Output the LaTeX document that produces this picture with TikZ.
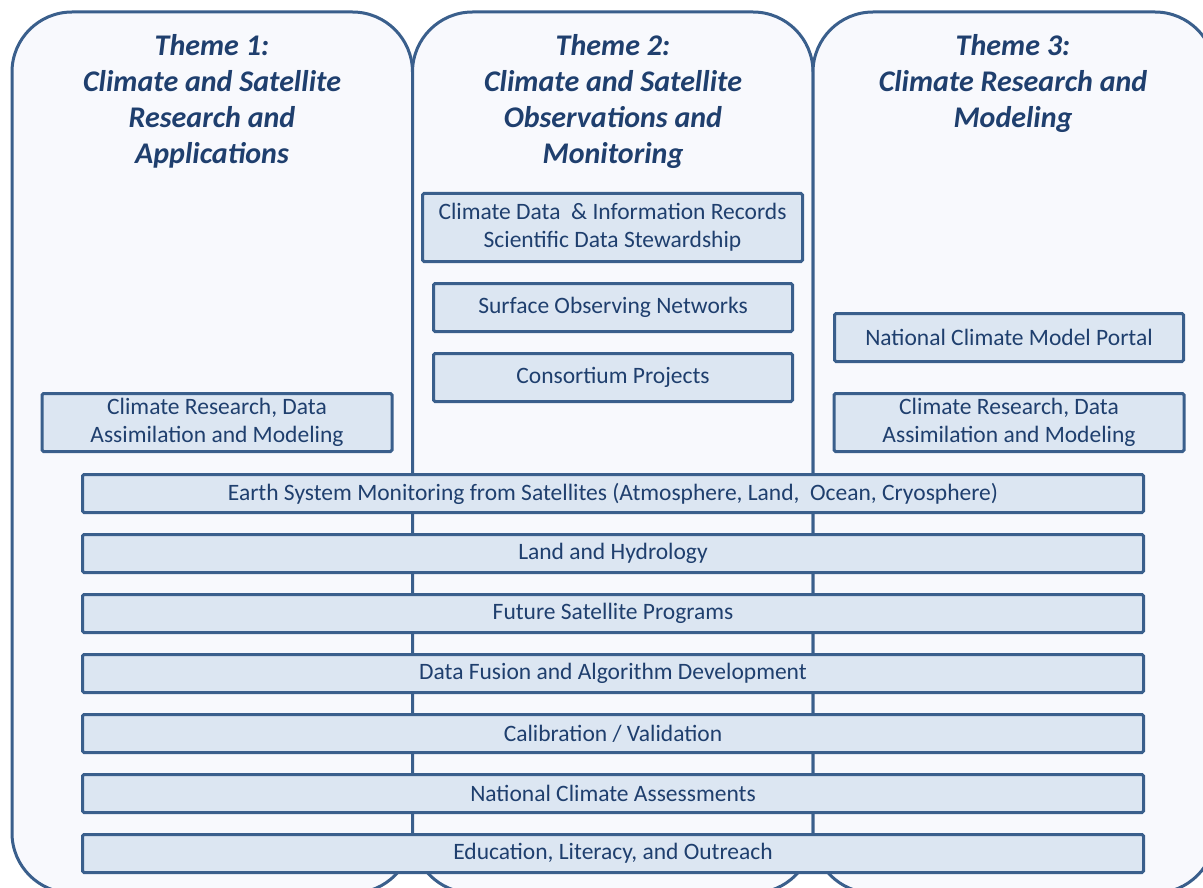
\documentclass[tikz,border=0pt]{standalone}
\usepackage{fontspec}
\setmainfont{Carlito}
\definecolor{lineblue}{HTML}{3A5F8C}
\definecolor{boxfill}{HTML}{DCE6F2}
\definecolor{colfill}{HTML}{F8F9FD}
\definecolor{textblue}{HTML}{1F3F6E}
\tikzset{
  column/.style={draw=lineblue, fill=colfill, line width=3pt, rounded corners=60pt},
  themetitle/.style={anchor=north, inner sep=0pt, align=center, text=textblue,
    font=\fontsize{30}{36}\selectfont\bfseries\itshape},
  topicbox/.style={draw=lineblue, fill=boxfill, line width=3pt, rounded corners=1.5pt,
    inner sep=0pt, align=center, text=textblue,
    font=\fontsize{23.5}{28}\selectfont},
  bar/.style={topicbox, minimum width=1061pt, minimum height=38pt}
}
\begin{document}
\begin{tikzpicture}[x=1pt, y=-1pt]
  \useasboundingbox (0,0) rectangle (1203,888);
  \fill[white] (0,0) rectangle (1203,888);
  \clip (0,0) rectangle (1203,888);

  % three theme columns, running past the lower edge
  \draw[column] (12,12) rectangle (412.5,893);
  \draw[column] (412.5,12) rectangle (813,893);
  \draw[column] (813,12) rectangle (1215,893);

  % column headings
  \node[themetitle] (t1) at (212,34) {Theme 1:\\Climate and Satellite\\Research and\\Applications};
  \node[themetitle] (t2) at (613,34) {Theme 2:\\Climate and Satellite\\Observations and\\Monitoring};
  \node[themetitle] (t3) at (1013,34) {Theme 3:\\Climate Research and\\Modeling};

  % topics belonging to a single theme
  \node[topicbox, minimum width=380pt, minimum height=68pt] (cdr) at (612.5,227.5)
    {Climate Data~ \& Information Records\\Scientific Data Stewardship};
  \node[topicbox, minimum width=359pt, minimum height=48pt] (son) at (613,307.5)
    {Surface Observing Networks};
  \node[topicbox, minimum width=359pt, minimum height=48pt] (cp) at (613,377.5)
    {Consortium Projects};
  \node[topicbox, minimum width=349pt, minimum height=48pt] (ncmp) at (1009,337.5)
    {National Climate Model Portal};
  \node[topicbox, minimum width=350pt, minimum height=58pt] (crdR) at (1009,422.5)
    {Climate Research, Data\\Assimilation and Modeling};
  \node[topicbox, minimum width=350pt, minimum height=58pt] (crdL) at (217,422.5)
    {Climate Research, Data\\Assimilation and Modeling};

  % cross-cutting topics spanning all themes
  \node[bar] (esm) at (613,493.5) {Earth System Monitoring from Satellites (Atmosphere, Land,~ Ocean, Cryosphere)};
  \node[bar] (lh)  at (613,553.5) {Land and Hydrology};
  \node[bar] (fsp) at (613,613.5) {Future Satellite Programs};
  \node[bar] (dfa) at (613,673.5) {Data Fusion and Algorithm Development};
  \node[bar] (cv)  at (613,733.5) {Calibration / Validation};
  \node[bar] (nca) at (613,793.5) {National Climate Assessments};
  \node[bar] (elo) at (613,853.5) {Education, Literacy, and Outreach};
\end{tikzpicture}
\end{document}
